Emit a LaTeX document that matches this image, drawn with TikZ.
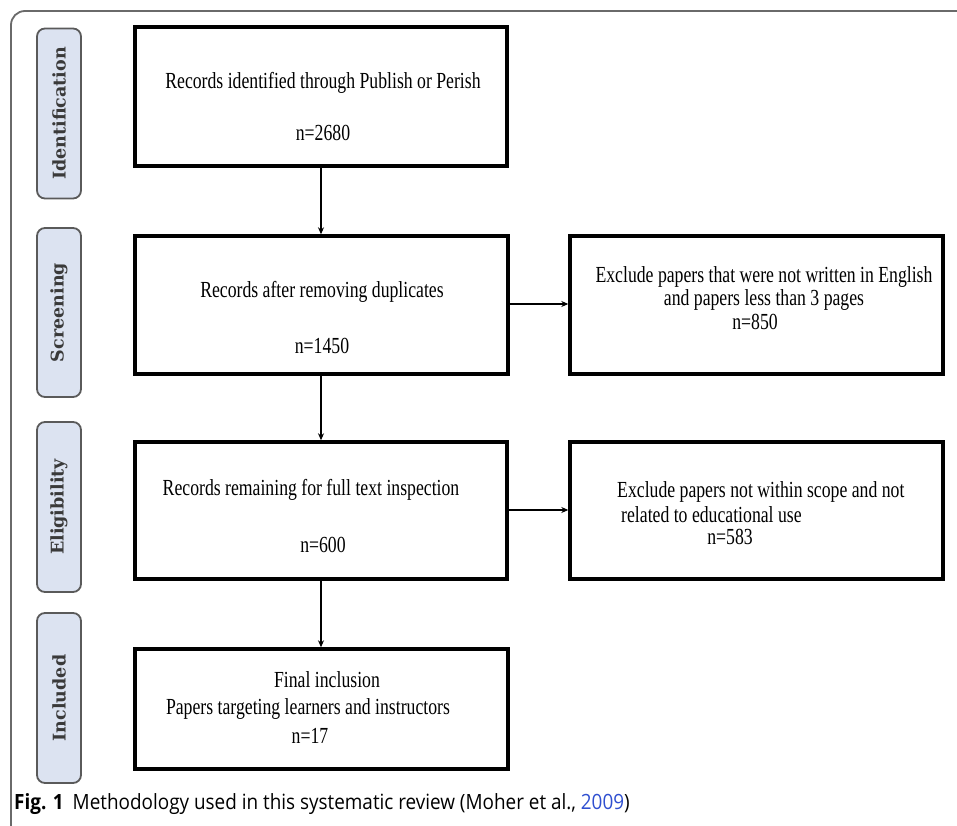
\documentclass[tikz,border=0pt]{standalone}
\usepackage{fontspec}
\setmainfont{Liberation Serif}
\newfontfamily\boxfont{Liberation Serif}[FakeStretch=0.77]
\newfontfamily\phasefont{DejaVu Serif}
\newfontfamily\capfont{Open Sans}[FakeStretch=0.9]
\usetikzlibrary{arrows.meta}
\definecolor{phasefill}{HTML}{DCE3F1}
\definecolor{phaseline}{HTML}{5A5A5A}
\definecolor{phasetext}{HTML}{3A3A3A}
\definecolor{framegray}{HTML}{6A6A6A}
\definecolor{linkblue}{HTML}{2F4FD0}
\begin{document}
\begin{tikzpicture}[x=1pt,y=-1pt,
  stage/.style={draw=phaseline, fill=phasefill, line width=1.8pt, rounded corners=8pt,
    inner sep=0pt, minimum width=44pt, minimum height=170pt},
  stagelabel/.style={rotate=90, text=phasetext, font=\phasefont\bfseries\fontsize{17.5}{19}\selectfont},
  flowbox/.style={draw=black, line width=3.4pt, inner sep=0pt, fill=white},
  boxtext/.style={inner sep=0pt, font=\boxfont\fontsize{23}{26}\selectfont},
  flow/.style={draw=black, line width=2pt, -{Stealth[length=7pt,width=6pt]}}
]
\useasboundingbox (0,0) rectangle (957,826);

% outer frame (open on the right and at the bottom)
\draw[framegray, line width=1.8pt, rounded corners=14pt] (960,11) -- (11,11) -- (11,845) -- (40,845);

% stage labels
\node[stage] (sid) at (59,113.5) {};
\node[stagelabel] (lid) at (sid) {Identification};
\node[stage, minimum height=169pt] (ssc) at (59,312.5) {};
\node[stagelabel] (lsc) at (ssc) {Screening};
\node[stage] (sel) at (59,507) {};
\node[stagelabel] (lel) at (sel) {Eligibility};
\node[stage] (sin) at (59,698) {};
\node[stagelabel] (lin) at (sin) {Included};

% main flow boxes
\node[flowbox, minimum width=372pt, minimum height=139pt] (b1) at (321,96.5) {};
\node[flowbox, minimum width=373pt, minimum height=138pt] (b2) at (321.5,305) {};
\node[flowbox, minimum width=372pt, minimum height=137pt] (b3) at (321,510.5) {};
\node[flowbox, minimum width=373pt, minimum height=120pt] (b4) at (321.5,709) {};
\node[flowbox, minimum width=373pt, minimum height=138pt] (r1) at (756.5,305) {};
\node[flowbox, minimum width=373pt, minimum height=137pt] (r2) at (756.5,510.5) {};

% box texts
\node[boxtext] (t1a) at (323,83) {Records identified through Publish or Perish};
\node[boxtext] (t1b) at (323,133) {n=2680};
\node[boxtext] (t2a) at (322,292) {Records after removing duplicates};
\node[boxtext] (t2b) at (322,346) {n=1450};
\node[boxtext] (t3a) at (311,490) {Records remaining for full text inspection};
\node[boxtext] (t3b) at (323,545) {n=600};
\node[boxtext] (t4a) at (327,680) {Final inclusion};
\node[boxtext] (t4b) at (308,709) {Papers targeting learners and instructors};
\node[boxtext] (t4c) at (310,736) {n=17};
\node[boxtext] (r1a) at (764,277) {Exclude papers that were not written in English};
\node[boxtext] (r1b) at (764,300) {and papers less than 3 pages};
\node[boxtext] (r1c) at (755,322) {n=850};
\node[boxtext, anchor=west] (r2a) at (617,492) {Exclude papers not within scope and not};
\node[boxtext, anchor=west] (r2b) at (621,515) {related to educational use};
\node[boxtext] (r2c) at (730,537) {n=583};

% connectors
\draw[flow] (b1.south -| t1b.center) ++(-2,0) coordinate (c1) -- (c1 |- b2.north);
\draw[flow] (b2.south -| c1) -- (c1 |- b3.north);
\draw[flow] (b3.south -| c1) -- (c1 |- b4.north);
\draw[flow] (b2.east |- 0,304) -- (r1.west |- 0,304);
\draw[flow] (b3.east |- 0,510) -- (r2.west |- 0,510);

% caption
\node[anchor=base west, inner sep=0pt, font=\capfont\fontsize{21}{24}\selectfont] (cap) at (14,809)
  {\textbf{Fig. 1}\hspace{9pt}Methodology used in this systematic review (Moher et al., \textcolor{linkblue}{2009})};
\end{tikzpicture}
\end{document}
